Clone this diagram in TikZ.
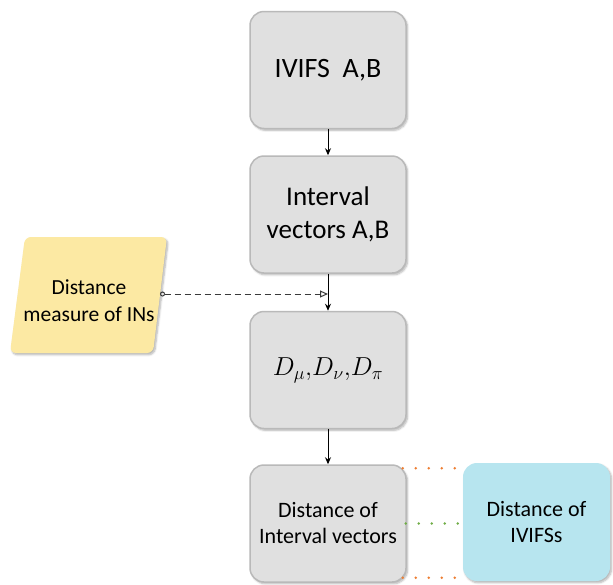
\RequirePackage{fix-cm}
\documentclass[tikz,border=0pt]{standalone}
\usepackage{fontspec}
\setmainfont{Carlito}
\usepackage{tikz}
\usetikzlibrary{
    positioning,
    arrows.meta,
    calc,
    shadows,
    shadows.blur
}
\definecolor{boxGray}{RGB}{224, 224, 224}
\definecolor{edgeGray}{RGB}{185, 185, 185}
\definecolor{noteYellow}{RGB}{252, 233, 163}
\definecolor{resultCyan}{RGB}{183, 229, 239}
\definecolor{dotOrange}{RGB}{237, 125, 49}
\definecolor{dotGreen}{RGB}{112, 173, 71}

\begin{document}
\begin{tikzpicture}[x=1pt, y=-1pt, >=Stealth,
    softshadow/.style={blur shadow={shadow xshift=1.5pt, shadow yshift=-1.8pt, shadow blur steps=6, shadow opacity=30}},
    stepbox/.style={draw=edgeGray, line width=1.5pt, fill=boxGray, rounded corners=14pt,
        minimum width=156pt, minimum height=117pt, align=center, softshadow},
    flow/.style={-{Stealth[length=7pt, width=6pt]}, black, line width=1pt},
    dotline/.style={line width=2.6pt, line cap=round, dash pattern=on 0pt off 13pt}
]
    \useasboundingbox (0,0) rectangle (613,584);

    % Main chain
    \node[stepbox, font=\fontsize{28}{34}\selectfont] (ivifs) at (328,70) {IVIFS\ \ A,B};
    \node[stepbox, font=\fontsize{27}{33}\selectfont] (intvec) at (328,214.5) {Interval\\vectors A,B};
    \node[stepbox, font=\fontsize{26}{32}\selectfont] (dists) at (328,370) {$D_{\mu}{,}D_{\nu}{,}D_{\pi}$};
    \node[stepbox, font=\fontsize{22}{26}\selectfont] (intdist) at (328,523.5) {Distance of\\Interval vectors};

    % Result box on the right
    \node[fill=resultCyan, rounded corners=14pt, minimum width=147pt, minimum height=118pt,
        align=center, softshadow, font=\fontsize{22}{26}\selectfont] (ivifsdist) at (536.5,522) {Distance of\\IVIFSs};

    % Side input: parallelogram with its label
    \fill[noteYellow, rounded corners=6pt, softshadow] (25,237) -- (167,237) -- (153,353) -- (10,353) -- cycle;
    \node[font=\fontsize{21.5}{27}\selectfont, align=center] (inmeasure) at (89,301) {Distance\\measure of INs};
    \coordinate (inport) at (160,294);

    % Arrows down the chain
    \draw[flow] (ivifs) -- (intvec);
    \draw[flow] (intvec) -- (dists);
    \draw[flow] (dists) -- (intdist);

    % Dashed feed into the second arrow
    \coordinate (join) at (intvec.south |- inport);
    \draw[gray!45!black, line width=1pt, dash pattern=on 6pt off 4pt,
        {Circle[open, length=5pt, width=5pt]}-{Triangle[open, length=8pt, width=7pt]}] (inport) -- (join);

    % Dotted links to the result
    \coordinate (topstart) at ($(intdist.north east)+(-4,4)$);
    \coordinate (botstart) at ($(intdist.south east)+(-4,-5)$);
    \draw[dotline, dotOrange] (topstart) -- (topstart -| ivifsdist.west);
    \draw[dotline, dotGreen] ($(intdist.east)+(-1,0)$) -- (intdist.east -| ivifsdist.west);
    \draw[dotline, dotOrange] (botstart) -- (botstart -| ivifsdist.west);
\end{tikzpicture}
\end{document}
